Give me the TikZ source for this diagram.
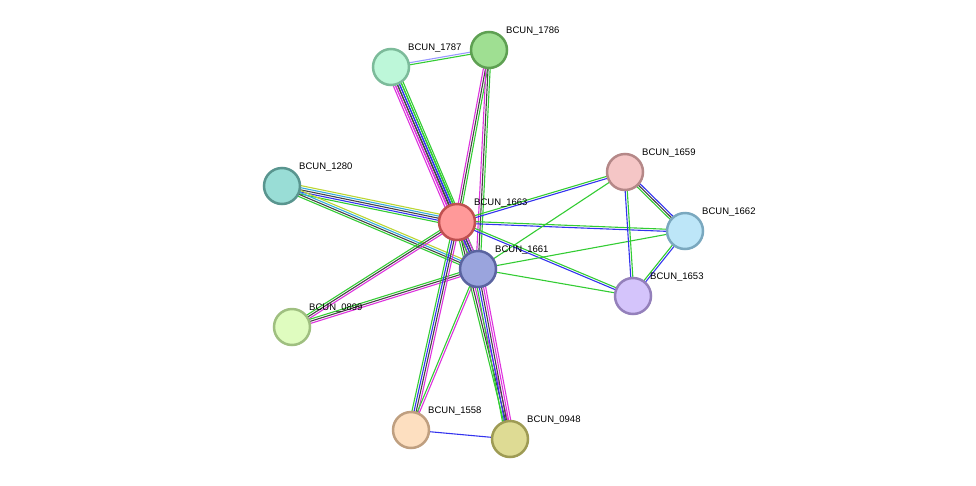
\documentclass[tikz,border=0pt]{standalone}
\usepackage{fontspec}
\setmainfont{Liberation Sans}
\usetikzlibrary{calc}
\definecolor{eG}{HTML}{33CC33}
\definecolor{eB}{HTML}{3333EE}
\definecolor{eK}{HTML}{444444}
\definecolor{eM}{HTML}{DD33DD}
\definecolor{eC}{HTML}{33AADD}
\definecolor{eY}{HTML}{BBD633}
\definecolor{eL}{HTML}{9999FF}
\newcommand{\mkedge}[3]{%
  \foreach \c [count=\i] in {#3} {\xdef\nn{\i}}%
  \foreach \c [count=\i] in {#3} {%
    \pgfmathsetmacro{\off}{(\i-(\nn+1)/2)*2.1}%
    \draw[edge,\c] ($(#1)!\off pt!90:(#2)$) -- ($(#2)!\off pt!-90:(#1)$);
  }}
\newcommand{\pnode}[5]{%
  \definecolor{f#1}{HTML}{#4}\definecolor{d#1}{HTML}{#5}%
  \node[prot,fill=f#1,draw=d#1] (#1) at (#2,#3) {};
  \node[lab] (l#1) at ($(#1)+(16,-13)$) {BCUN\_#1};}
\begin{document}
\begin{tikzpicture}[x=1pt,y=-1pt,
  prot/.style={circle,minimum size=36pt,inner sep=0pt,line width=2.5pt},
  lab/.style={anchor=south west,font=\fontsize{9.5}{11}\selectfont,inner sep=1pt},
  edge/.style={line width=1.1pt}]
\useasboundingbox (0,0) rectangle (976,485);
\coordinate (1786) at (489,50);
\coordinate (1787) at (391,67);
\coordinate (1280) at (282,186);
\coordinate (1663) at (457,222);
\coordinate (1661) at (478,269);
\coordinate (1659) at (625,172);
\coordinate (1662) at (685,231);
\coordinate (1653) at (633,296);
\coordinate (0899) at (292,327);
\coordinate (1558) at (411,430);
\coordinate (0948) at (510,439);
\mkedge{1663}{1787}{eG,eG,eB,eK,eM,eM}
\mkedge{1661}{1787}{eG,eB,eK,eM}
\mkedge{1663}{1786}{eG,eK,eM}
\mkedge{1661}{1786}{eG,eK,eM}
\mkedge{1787}{1786}{eG,eL}
\mkedge{1280}{1663}{eG,eB,eK,eC,eY}
\mkedge{1280}{1661}{eG,eK,eC,eY}
\mkedge{1663}{0899}{eG,eK,eM}
\mkedge{1661}{0899}{eG,eK,eM}
\mkedge{1663}{1558}{eG,eB,eK,eM}
\mkedge{1661}{1558}{eG,eM}
\mkedge{1663}{0948}{eG,eK,eM}
\mkedge{1661}{0948}{eG,eB,eK,eM,eM}
\mkedge{1558}{0948}{eB}
\mkedge{1663}{1661}{eG,eB,eK,eM}
\mkedge{1663}{1659}{eB,eG}
\mkedge{1663}{1662}{eB,eG}
\mkedge{1663}{1653}{eB,eG}
\mkedge{1661}{1659}{eG}
\mkedge{1661}{1662}{eG}
\mkedge{1661}{1653}{eG}
\mkedge{1659}{1662}{eG,eK,eB}
\mkedge{1659}{1653}{eB,eG}
\mkedge{1662}{1653}{eG,eB}
\pnode{1786}{489}{50}{9FDF92}{5EA052}
\pnode{1787}{391}{67}{BDF7D9}{7CBB9A}
\pnode{1280}{282}{186}{99DDD6}{59958F}
\pnode{1663}{457}{222}{FF9999}{C05050}
\pnode{1661}{478}{269}{9AA4DD}{5A64A0}
\pnode{1659}{625}{172}{F5C6C6}{B58888}
\pnode{1662}{685}{231}{BDE6F8}{7AA8BF}
\pnode{1653}{633}{296}{D4C4FB}{9480BB}
\pnode{0899}{292}{327}{DFFCBF}{9FBF80}
\pnode{1558}{411}{430}{FDDFC0}{BF9F80}
\pnode{0948}{510}{439}{DEDB94}{9E9B54}
\end{tikzpicture}
\end{document}
